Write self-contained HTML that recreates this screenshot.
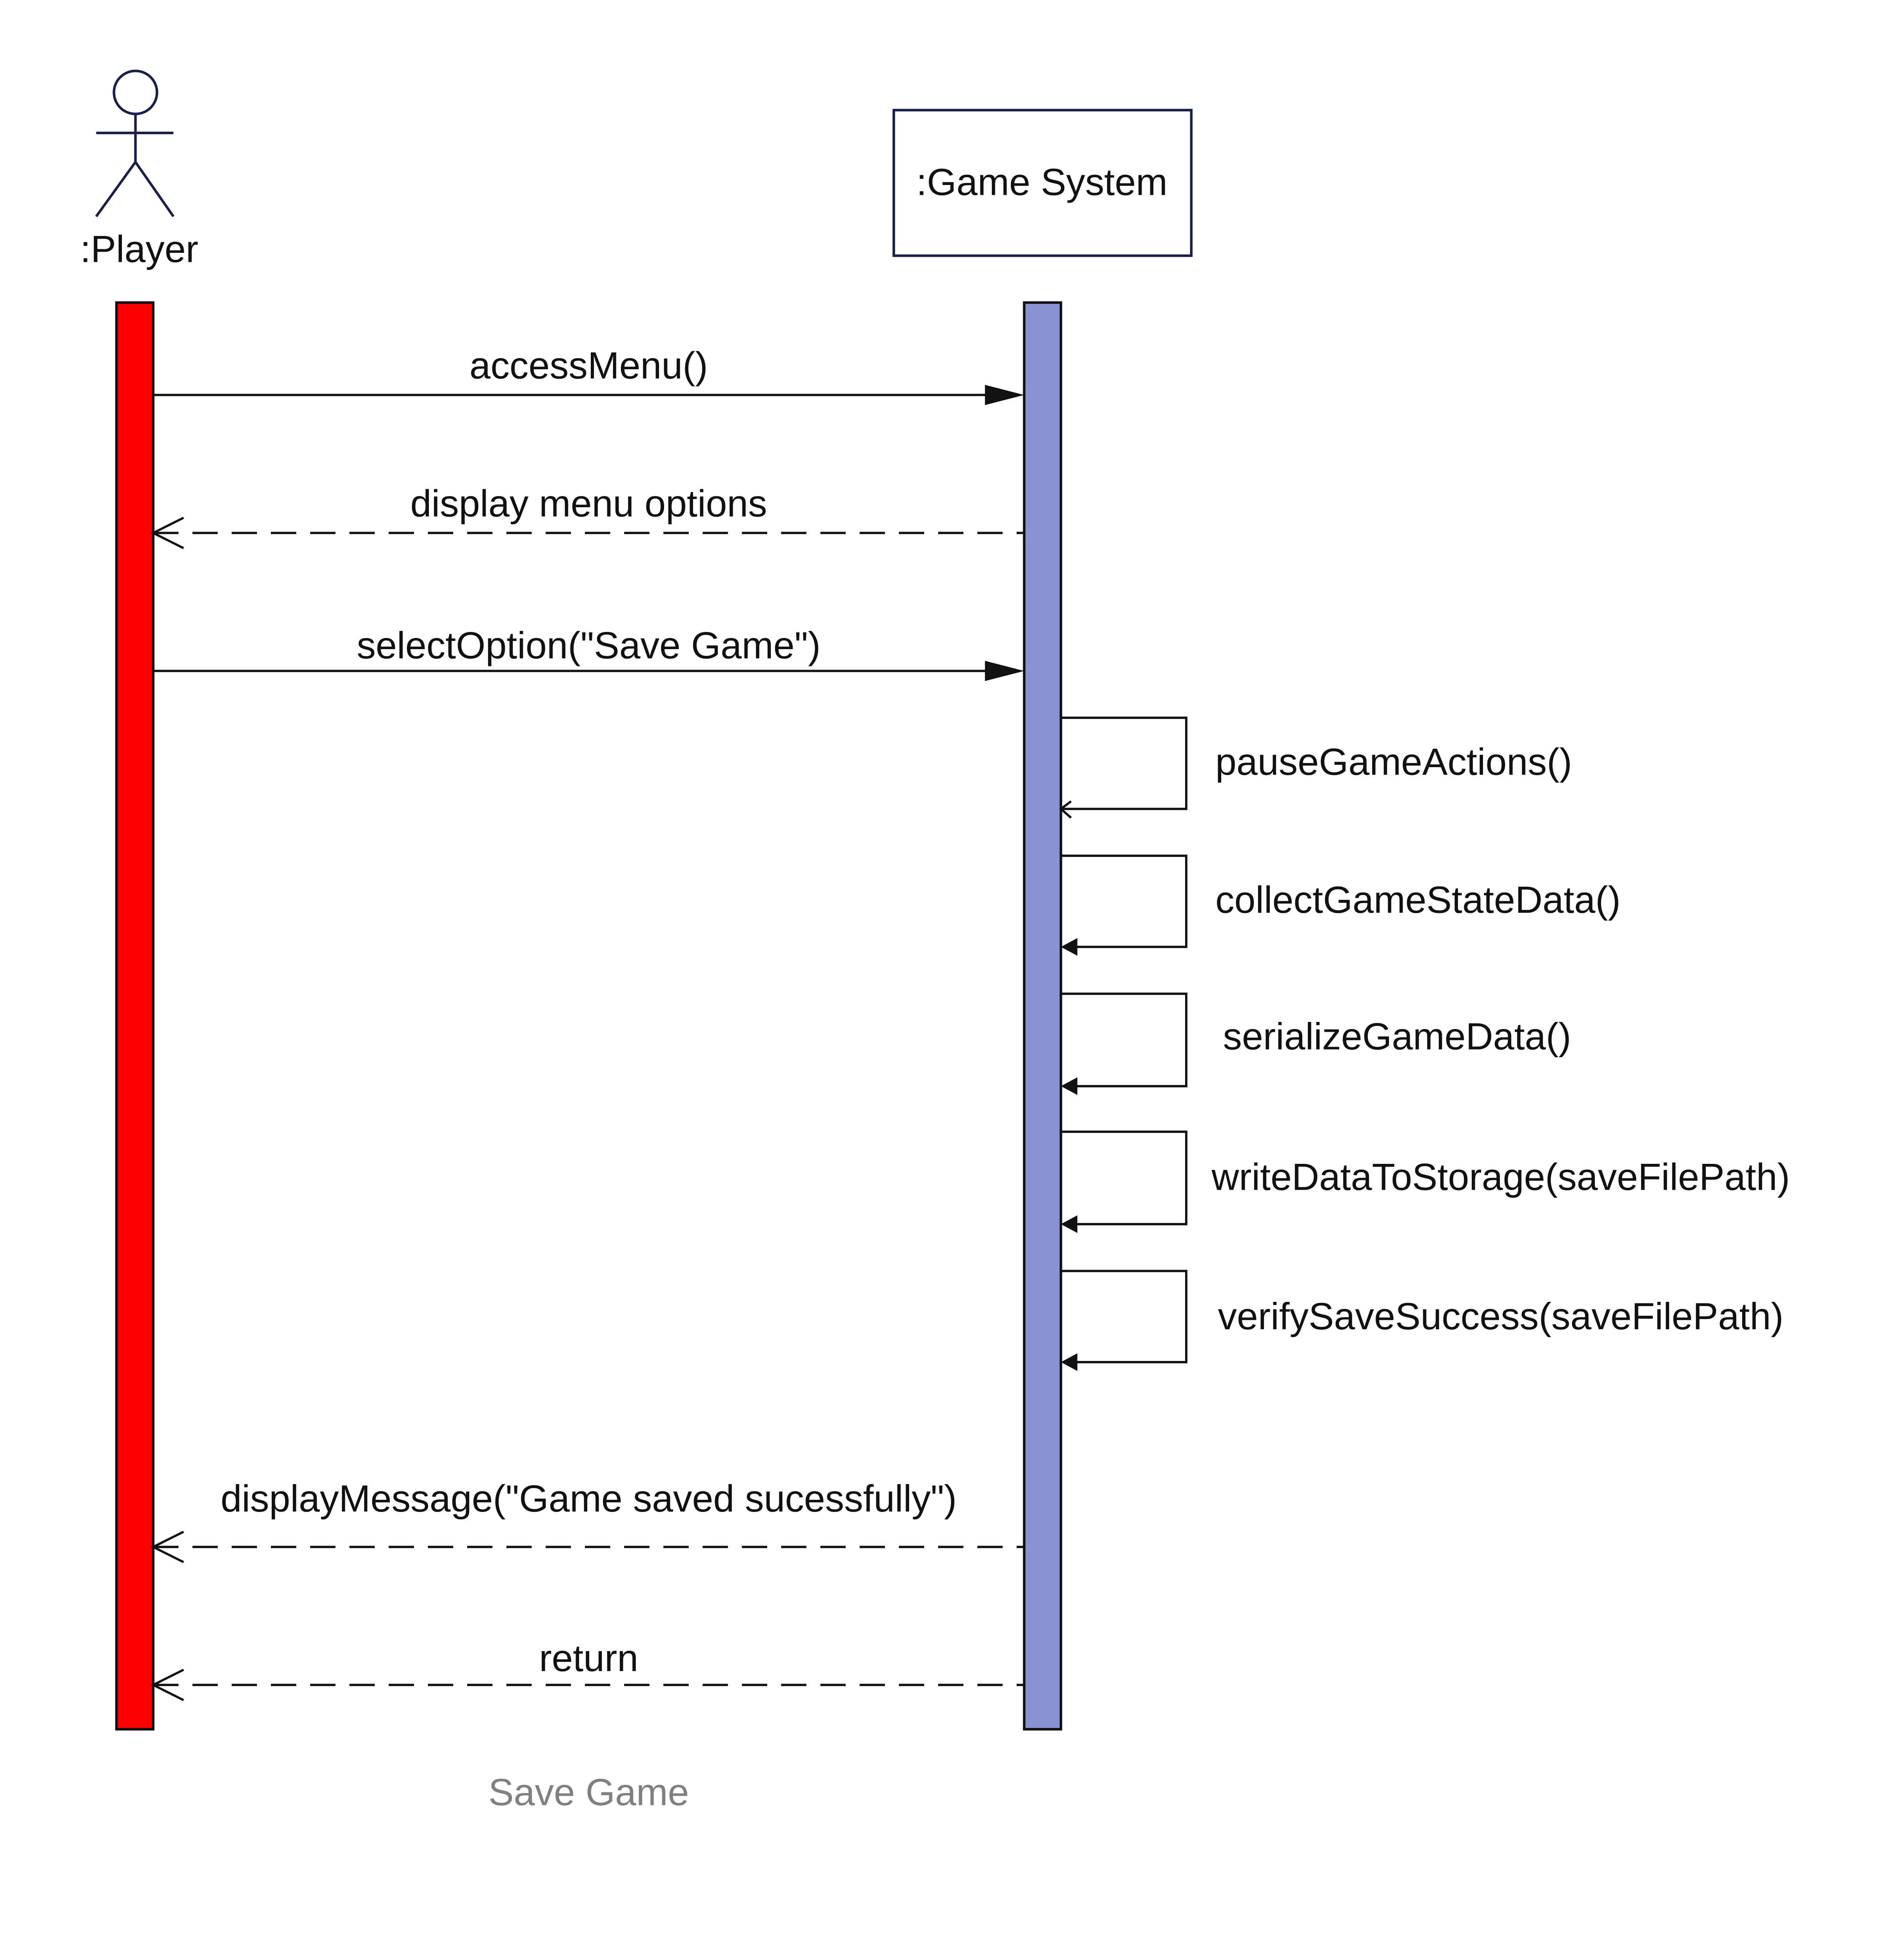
<!DOCTYPE html>
<html><head><meta charset="utf-8"><style>html,body{margin:0;padding:0;background:#fff;overflow:hidden;width:4844px;height:5084px}svg{display:block}</style></head>
<body>
<svg xmlns="http://www.w3.org/2000/svg" width="4844" height="5084" viewBox="0 0 1500 1574.3" preserveAspectRatio="none" font-family="Liberation Sans, Arial, sans-serif">
<rect width="1500" height="1575" fill="#fff"/>
<g stroke="#1a1f4a" stroke-width="2" fill="none">
<circle cx="107" cy="73" r="17"/>
<line x1="107" y1="90" x2="107" y2="128"/>
<line x1="76" y1="105" x2="137" y2="105"/>
<line x1="107" y1="128" x2="76" y2="171"/>
<line x1="107" y1="128" x2="137" y2="171"/>
<rect x="706" y="87" width="235" height="115"/>
</g>
<text x="110" y="207" font-size="30" text-anchor="middle" fill="#111">:Player</text>
<text x="823" y="154" font-size="30" text-anchor="middle" fill="#111">:Game System</text>
<rect x="92" y="239" width="29" height="1127" fill="#ff0000" stroke="#111" stroke-width="2"/>
<rect x="809" y="239" width="29" height="1127" fill="#8891d1" stroke="#111" stroke-width="2"/>
<g stroke="#111" stroke-width="1.8" fill="none">
<line x1="121" y1="312" x2="780" y2="312"/>
<line x1="121" y1="530" x2="780" y2="530"/>
<line x1="121" y1="421" x2="809" y2="421" stroke-dasharray="20,11"/>
<line x1="121" y1="1222" x2="809" y2="1222" stroke-dasharray="20,11"/>
<line x1="121" y1="1331" x2="809" y2="1331" stroke-dasharray="20,11"/>
<polyline points="145,409 121,421 145,433"/>
<polyline points="145,1210 121,1222 145,1234"/>
<polyline points="145,1319 121,1331 145,1343"/>
<polyline points="838,567 937,567 937,639 838,639"/>
<polyline points="846,633 838,639 846,646"/>
<polyline points="838,676 937,676 937,748 850,748"/>
<polyline points="838,785 937,785 937,858 850,858"/>
<polyline points="838,894 937,894 937,967 850,967"/>
<polyline points="838,1004 937,1004 937,1076 850,1076"/>
</g>
<g fill="#111">
<polygon points="778,304 809,312 778,320"/>
<polygon points="778,522 809,530 778,538"/>
<polygon points="851,741 838,748 851,755"/>
<polygon points="851,851 838,858 851,865"/>
<polygon points="851,960 838,967 851,974"/>
<polygon points="851,1069 838,1076 851,1083"/>
</g>
<g font-size="30" fill="#111">
<text x="465" y="299" text-anchor="middle">accessMenu()</text>
<text x="465" y="408" text-anchor="middle">display menu options</text>
<text x="465" y="520" text-anchor="middle">selectOption("Save Game")</text>
<text x="960" y="612">pauseGameActions()</text>
<text x="960" y="721">collectGameStateData()</text>
<text x="966" y="829">serializeGameData()</text>
<text x="957" y="940">writeDataToStorage(saveFilePath)</text>
<text x="962" y="1050">verifySaveSuccess(saveFilePath)</text>
<text x="465" y="1194" text-anchor="middle">displayMessage("Game saved sucessfully")</text>
<text x="465" y="1320" text-anchor="middle">return</text>
</g>
<text x="465" y="1426" font-size="30" text-anchor="middle" fill="#808080">Save Game</text>
</svg>
</body></html>
